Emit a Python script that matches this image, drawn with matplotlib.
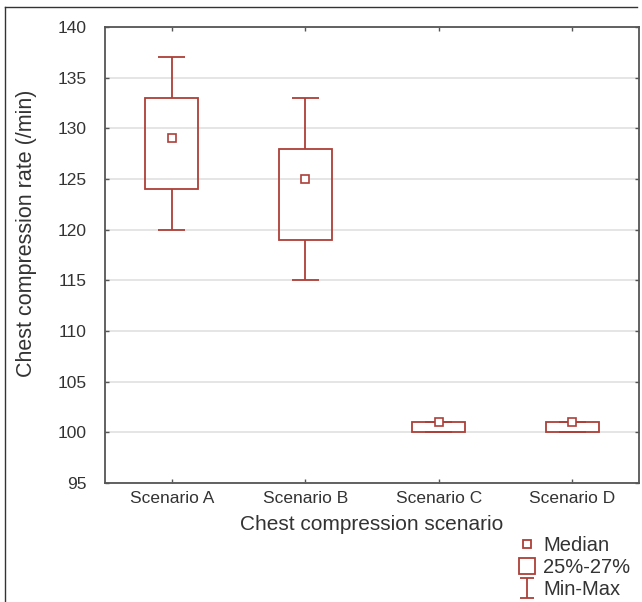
import matplotlib
matplotlib.use("Agg")
import matplotlib.pyplot as plt
from matplotlib.lines import Line2D
from matplotlib.path import Path

plt.rcParams['font.family'] = ['Liberation Sans', 'DejaVu Sans']

scenarios = ["Scenario A", "Scenario B", "Scenario C", "Scenario D"]
mins = [120, 115, 100, 100]
q1 = [124, 119, 100, 100]
medians = [129, 125, 101, 101]
q3 = [133, 128, 101, 101]
maxs = [137, 133, 101, 101]

red = '#ad3f38'
spine = '#555555'

fig = plt.figure(figsize=(6.42, 6.02), dpi=100)
ax = fig.add_axes([105 / 642, 1 - 483 / 602, 534 / 642, 456 / 602])

x = list(range(len(scenarios)))
heights = [b - a for a, b in zip(q1, q3)]

ax.bar(x, heights, bottom=q1, width=0.4, fill=False, edgecolor=red, linewidth=1.3, zorder=3)
ax.vlines(x, mins, q1, color=red, lw=1.3, zorder=3)
ax.vlines(x, q3, maxs, color=red, lw=1.3, zorder=3)
ax.hlines(mins, [i - 0.1 for i in x], [i + 0.1 for i in x], color=red, lw=1.3, zorder=3)
ax.hlines(maxs, [i - 0.1 for i in x], [i + 0.1 for i in x], color=red, lw=1.3, zorder=3)
ax.plot(x, medians, ls='none', marker='s', ms=5.5, mfc='white', mec=red, mew=1.2, zorder=4)

ax.set_xlim(-0.5, 3.5)
ax.set_ylim(95, 140)
ax.set_yticks(range(95, 141, 5))
ax.set_xticks(x)
ax.set_xticklabels(scenarios)
ax.tick_params(direction='in', length=3, width=1, color=spine, labelsize=12.5,
               top=True, right=True, labelcolor='#333333')
ax.tick_params(axis='x', pad=6)
ax.tick_params(axis='y', pad=13)
ax.yaxis.grid(True, color='#e0e0e0', lw=1.2, zorder=0)
ax.set_axisbelow(True)
for s in ax.spines.values():
    s.set_color(spine)
    s.set_linewidth(1.3)

ax.set_xlabel("Chest compression scenario", fontsize=15, color='#333333', labelpad=6)
ax.set_ylabel("Chest compression rate (/min)", fontsize=15.5, color='#333333',
              labelpad=15, y=0.548)

# I-beam marker for min-max
ibeam = Path([(-0.35, -0.5), (0.35, -0.5), (0, -0.5), (0, 0.5), (-0.35, 0.5), (0.35, 0.5)],
             [Path.MOVETO, Path.LINETO, Path.MOVETO, Path.LINETO, Path.MOVETO, Path.LINETO])
handles = [
    Line2D([], [], ls='none', marker='s', ms=6, mfc='white', mec=red, mew=1.3),
    Line2D([], [], ls='none', marker='s', ms=12, mfc='white', mec=red, mew=1.3),
    Line2D([], [], ls='none', marker=ibeam, ms=15, mec=red, mew=1.3),
]
fig.legend(handles, ["Median", "25%-27%", "Min-Max"], loc='upper left',
           bbox_to_anchor=(507 / 642, 1 - 526 / 602), frameon=False, fontsize=14.5,
           handlelength=1.0, handletextpad=0.3, labelspacing=0.15, borderpad=0,
           labelcolor='#333333')

# outer frame lines
fig.add_artist(Line2D([5 / 642, 637 / 642], [1 - 7 / 602, 1 - 7 / 602], color='#333333', lw=1))
fig.add_artist(Line2D([5 / 642, 5 / 642], [1 - 7 / 602, 0], color='#333333', lw=1))

fig.savefig("out.png", dpi=100)
